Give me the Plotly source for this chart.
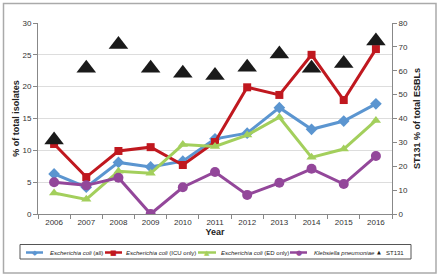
import plotly.graph_objects as go

years = ["2006", "2007", "2008", "2009", "2010", "2011", "2012", "2013", "2014", "2015", "2016"]
ecoli_all = [6.3, 4.2, 8.1, 7.4, 8.3, 11.8, 12.7, 16.7, 13.3, 14.6, 17.3]
ecoli_icu = [11.0, 5.8, 9.9, 10.5, 7.7, 11.3, 19.9, 18.7, 25.0, 17.9, 25.9]
ecoli_ed = [3.3, 2.3, 6.7, 6.4, 10.9, 10.6, 12.4, 15.2, 8.9, 10.2, 14.7]
kpneu = [5.0, 4.5, 5.7, 0.0, 4.2, 6.6, 3.0, 4.9, 7.1, 4.7, 9.1]
st131 = [31, 61, 71, 61, 59, 58, 61.5, 67, 61, 63, 72.5]

left_ticks = [0, 5, 10, 15, 20, 25, 30]
right_ticks = [0, 10, 20, 30, 40, 50, 60, 70, 80]

font = "Liberation Sans, Arial, sans-serif"

W, H = 440, 277
ML, MR, MT, MB = 38, 48, 23, 63
PW, PH = W - ML - MR, H - MT - MB

def px(x):
    return (x - ML) / PW

def py(y):
    return (H - MB - y) / PH

fig = go.Figure()

series = [
    (ecoli_all, "<i>Escherichia coli</i> (all)", "#5b95d0", "diamond", 9, "◆"),
    (ecoli_icu, "<i>Escherichia coli</i> (ICU only)", "#c0181f", "square", 8, "■"),
    (ecoli_ed, "<i>Escherichia coli</i> (ED only)", "#a3cf5c", "triangle-up", 9, "▲"),
    (kpneu, "<i>Klebsiella pneumoniae</i>", "#93479a", "circle", 10, "●"),
]

for y, name, color, symbol, size, _ in series:
    fig.add_trace(go.Scatter(
        x=years, y=y, name=name, mode="lines+markers",
        line=dict(color=color, width=3),
        marker=dict(symbol=symbol, size=size, color=color),
        yaxis="y",
    ))

fig.add_trace(go.Scatter(
    x=years, y=st131, name="ST131", mode="markers",
    marker=dict(symbol="triangle-up", size=17, color="#1a1a1a"),
    yaxis="y2",
))

# manual one-row legend (pixel positions converted to paper coords)
shapes = []
annotations = []
leg_y = 252.5
item_x = [(26, 43, 48), (105, 122, 124), (198, 216, 219), (290, 307, 312)]
for (x0, x1, xt), (_, name, color, _s, _z, glyph) in zip(item_x, series):
    shapes.append(dict(type="line", xref="paper", yref="paper",
                       x0=px(x0), x1=px(x1), y0=py(leg_y), y1=py(leg_y),
                       line=dict(color=color, width=2.5)))
    annotations.append(dict(xref="paper", yref="paper", x=px((x0 + x1) / 2), y=py(leg_y),
                            text=glyph, showarrow=False, xanchor="center", yanchor="middle",
                            font=dict(size=7, color=color, family="DejaVu Sans")))
    annotations.append(dict(xref="paper", yref="paper", x=px(xt), y=py(leg_y),
                            text=name, showarrow=False, xanchor="left", yanchor="middle",
                            font=dict(size=6, color="#222222", family=font)))
annotations.append(dict(xref="paper", yref="paper", x=px(379), y=py(leg_y - 0.5),
                        text="▲", showarrow=False, xanchor="center", yanchor="middle",
                        font=dict(size=5, color="#1a1a1a", family="DejaVu Sans")))
annotations.append(dict(xref="paper", yref="paper", x=px(384), y=py(leg_y),
                        text="ST131", showarrow=False, xanchor="left", yanchor="middle",
                        font=dict(size=6, color="#222222", family=font)))
shapes.append(dict(type="rect", xref="paper", yref="paper",
                   x0=px(20), x1=px(411), y0=py(259), y1=py(244.5),
                   line=dict(color="#555555", width=1), fillcolor="rgba(0,0,0,0)"))
shapes.append(dict(type="rect", xref="paper", yref="paper",
                   x0=px(3.5), x1=px(436), y0=py(273), y1=py(3.5),
                   line=dict(color="#aaaaaa", width=1.5), fillcolor="rgba(0,0,0,0)",
                   layer="below"))

fig.update_layout(
    width=W, height=H,
    margin=dict(l=ML, r=MR, t=MT, b=MB, autoexpand=False),
    paper_bgcolor="white", plot_bgcolor="white",
    font=dict(family=font, size=8, color="#333333"),
    showlegend=False,
    xaxis=dict(
        type="category", categoryorder="array", categoryarray=years,
        tickvals=years, ticktext=years,
        showline=True, linecolor="#888888", linewidth=1,
        ticks="outside", ticklen=4, tickcolor="#888888", tickson="boundaries",
        showgrid=False, automargin=False,
        tickfont=dict(size=8, color="#333333"),
        title=dict(text="<b>Year</b>", font=dict(size=9, color="#222222"), standoff=2),
        range=[-0.5, 10.5],
    ),
    yaxis=dict(
        range=[0, 30], tickvals=left_ticks,
        showline=True, linecolor="#888888", linewidth=1,
        ticks="outside", ticklen=4, tickcolor="#888888",
        showgrid=True, gridcolor="#dddddd", gridwidth=1,
        zeroline=False, automargin=False,
        tickfont=dict(size=8, color="#333333"),
        title=dict(text="<b>% of total isolates</b>", font=dict(size=9, color="#222222"), standoff=1),
    ),
    yaxis2=dict(
        range=[0, 80], tickvals=right_ticks, overlaying="y", side="right",
        showline=True, linecolor="#888888", linewidth=1,
        ticks="outside", ticklen=4, tickcolor="#888888",
        showgrid=False, zeroline=False, automargin=False,
        tickfont=dict(size=8, color="#333333"),
        title=dict(text="<b>ST131 % of total ESBLs</b>", font=dict(size=9, color="#222222"), standoff=6),
    ),
    shapes=shapes,
    annotations=annotations,
)

fig.write_html("out.html", config={"displayModeBar": False},
               post_script="document.body.style.margin='0';")
